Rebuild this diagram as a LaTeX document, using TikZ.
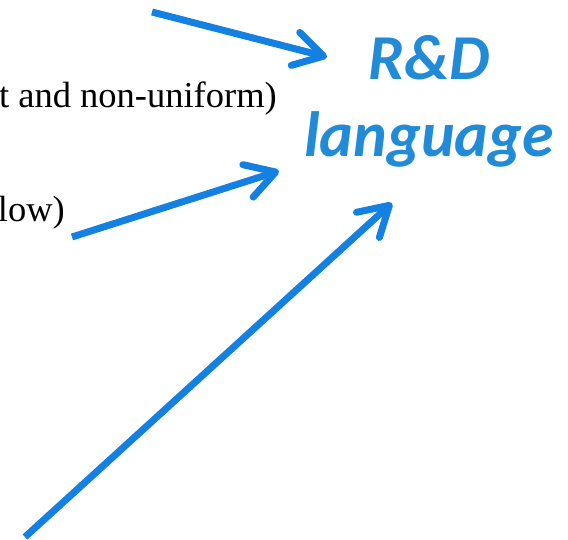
\documentclass[tikz,border=0pt]{standalone}
\usepackage{fontspec}
\setmainfont{Liberation Serif}
\newfontfamily\calibri{Carlito}
\usetikzlibrary{arrows.meta}
\definecolor{arrowblue}{RGB}{20,128,226}
\definecolor{labelblue}{RGB}{33,139,215}

\begin{document}
\begin{tikzpicture}[x=1pt,y=-1pt,
    bluearrow/.style={arrowblue,line width=7pt,-{Straight Barb[round,length=29pt,width=34pt]}}]
        \useasboundingbox (0,0) rectangle (568,540);
        \clip (0,0) rectangle (568,540);

        % cut-off text lines
        \node[anchor=base east,inner sep=0pt,font=\fontsize{36.5}{42}\selectfont] (uniform) at (277,108) {t and non-uniform)};
        \node[anchor=base east,inner sep=0pt,font=\fontsize{36.5}{42}\selectfont] (flow) at (65,222) {low)};

        % label
        \node[anchor=base,inner sep=0pt,align=center,text=labelblue,
              font=\calibri\bfseries\itshape\fontsize{64}{77}\selectfont] (rd) at (429,157) {R\&D\\language};

        % arrows
        \coordinate (a1) at (152,12);  \coordinate (t1) at (327,57);
        \coordinate (a2) at (72,237);  \coordinate (t2) at (279,171);
        \coordinate (a3) at (25,537);  \coordinate (t3) at (392,203);
        \draw[bluearrow] (a1) -- (t1);
        \draw[bluearrow] (a2) -- (t2);
        \draw[bluearrow] (a3) -- (t3);
    \end{tikzpicture}
\end{document}
